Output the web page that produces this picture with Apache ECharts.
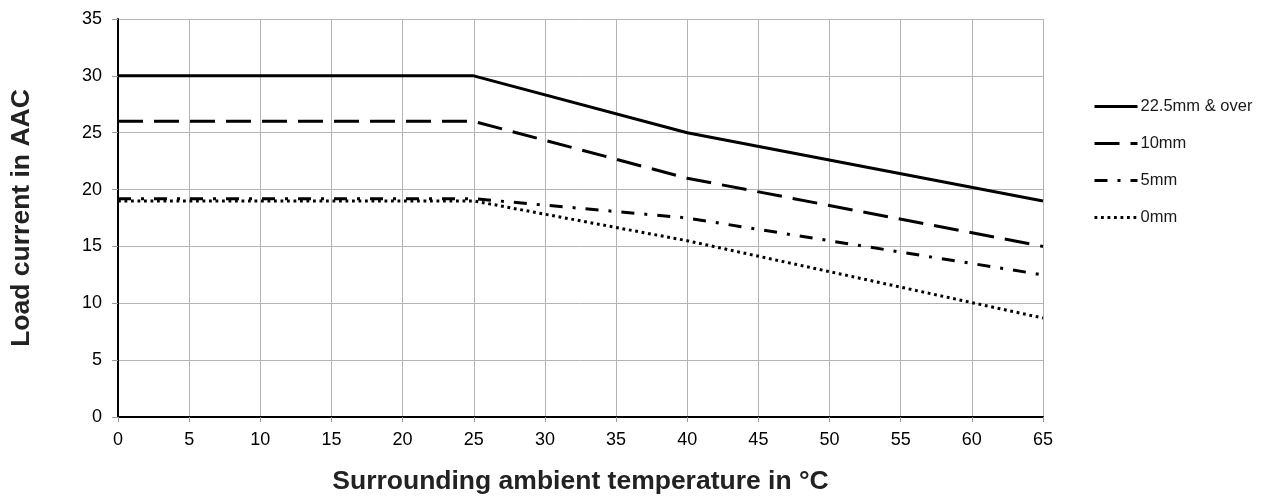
<!DOCTYPE html>
<html>
<head>
<meta charset="utf-8">
<script src="https://cdn.jsdelivr.net/npm/echarts@6/dist/echarts.min.js"></script>
<style>
html,body{margin:0;padding:0;background:#fff;}
#chart{width:1270px;height:503px;}
</style>
</head>
<body>
<div id="chart"></div>
<script>
// Data
var temperatures = [0, 25, 40, 65];
var s22_5mm = [30, 30, 25, 19];
var s10mm = [26, 26, 21, 15];
var s5mm = [19.2, 19.2, 17.5, 12.5];
var s0mm = [19, 19, 15.5, 8.7];
var seriesNames = ['22.5mm & over', '10mm', '5mm', '0mm'];
var xTitle = 'Surrounding ambient temperature in °C';
var yTitle = 'Load current in AAC';

function pairs(ys) {
  return temperatures.map(function (t, i) { return [t, ys[i]]; });
}

var FONT = '"Liberation Sans", Arial, sans-serif';
var chart = echarts.init(document.getElementById('chart'), null, {renderer: 'canvas'});

var lineStyles = [
  {color: '#000', width: 3, type: 'solid'},
  {color: '#000', width: 3, type: [25, 11]},
  {color: '#000', width: 3, type: [13, 10, 3, 10]},
  {color: '#000', width: 3, type: [2.8, 3.7]}
];
var values = [s22_5mm, s10mm, s5mm, s0mm];

chart.setOption({
  animation: false,
  backgroundColor: '#fff',
  grid: {left: 116, right: 227, top: 19, bottom: 86, containLabel: false},
  legend: {
    orient: 'vertical',
    left: 1093,
    top: 98,
    padding: 0,
    itemWidth: 43,
    itemHeight: 17,
    itemGap: 20,
    itemStyle: {color: 'rgba(0,0,0,0)', borderWidth: 0, opacity: 0},
    lineStyle: {width: 3},
    textStyle: {fontFamily: FONT, fontSize: 16.5, color: '#1a1a1a', padding: [0, 0, 0, -2]},
    data: seriesNames
  },
  xAxis: {
    type: 'value',
    min: 0, max: 65, interval: 5,
    name: xTitle,
    nameLocation: 'middle',
    nameGap: 51,
    nameTextStyle: {fontFamily: FONT, fontSize: 26.5, fontWeight: 'bold', color: '#222'},
    axisLine: {show: true, onZero: false, lineStyle: {color: '#000', width: 2}},
    axisTick: {show: true, length: 5, lineStyle: {color: '#999', width: 1}},
    axisLabel: {fontFamily: FONT, fontSize: 18, color: '#000', margin: 14},
    splitLine: {show: true, lineStyle: {color: '#b4b4b4', width: 1}}
  },
  yAxis: {
    type: 'value',
    min: 0, max: 35, interval: 5,
    name: yTitle,
    nameLocation: 'middle',
    nameGap: 83,
    nameTextStyle: {fontFamily: FONT, fontSize: 26.5, fontWeight: 'bold', color: '#222'},
    axisLine: {show: true, onZero: false, lineStyle: {color: '#000', width: 2}},
    axisTick: {show: true, length: 6, lineStyle: {color: '#999', width: 1}},
    axisLabel: {fontFamily: FONT, fontSize: 18, color: '#000', margin: 16},
    splitLine: {show: true, lineStyle: {color: '#b4b4b4', width: 1}}
  },
  series: seriesNames.map(function (name, i) {
    return {
      name: name,
      type: 'line',
      data: pairs(values[i]),
      symbol: 'none',
      lineStyle: lineStyles[i],
      itemStyle: {color: '#000'},
      z: 2 + i
    };
  })
});
</script>
</body>
</html>
